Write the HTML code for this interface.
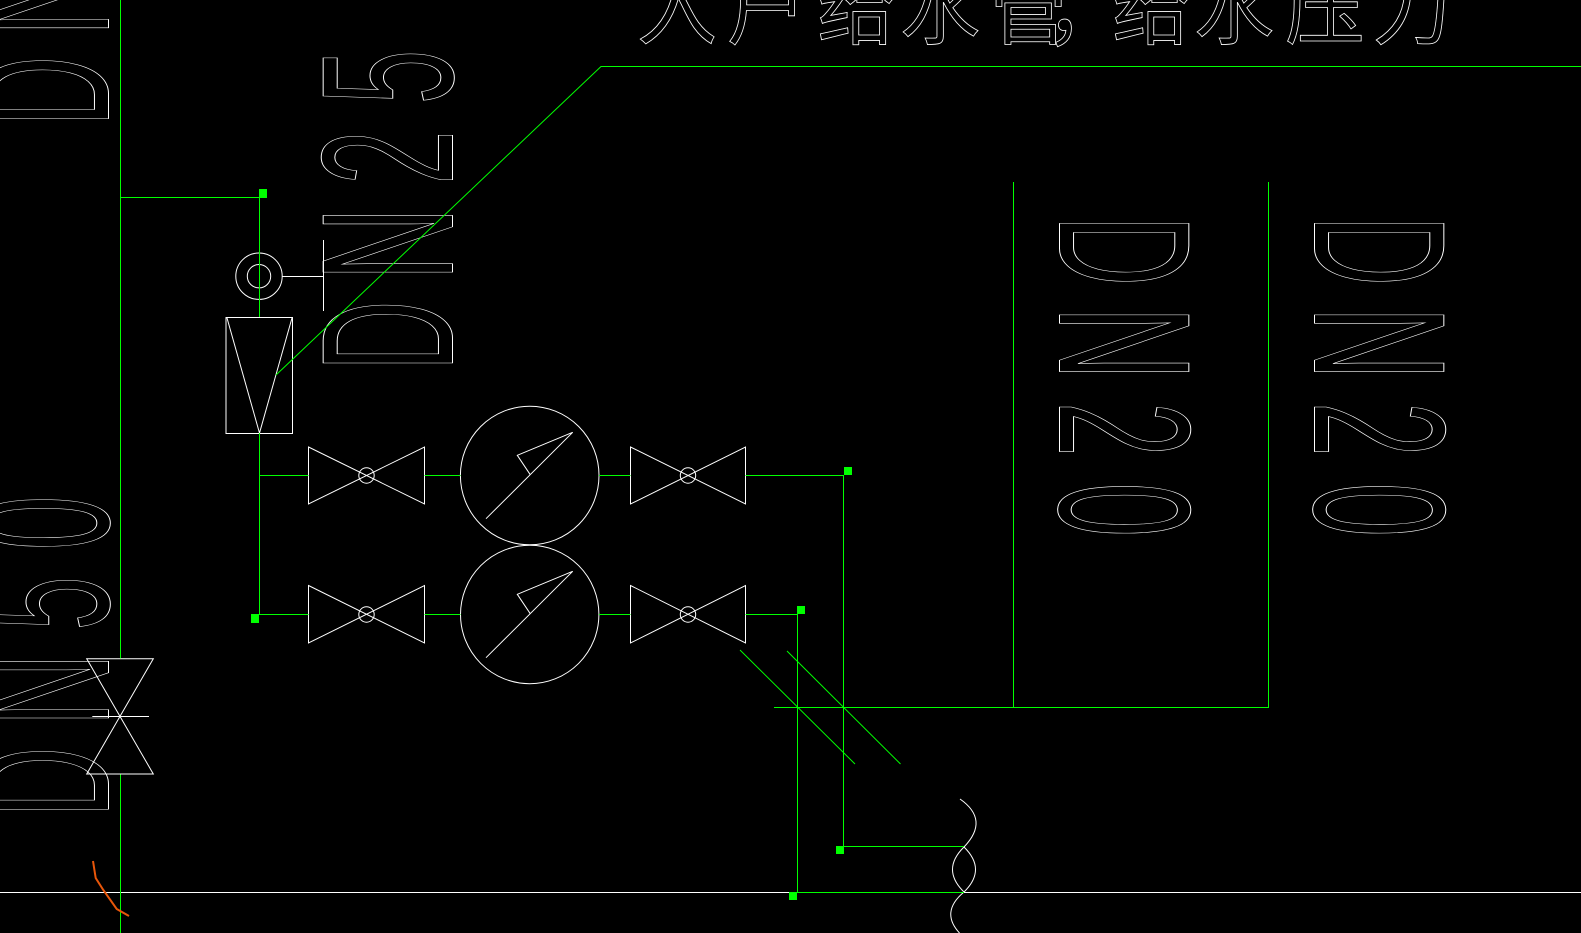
<!DOCTYPE html>
<html><head><meta charset="utf-8"><style>
html,body{margin:0;padding:0;background:#000;}
svg{display:block;}
.t{font-family:"Liberation Sans",sans-serif;font-size:188px;fill:none;stroke:#fff;stroke-width:1;}
.c{font-family:"Liberation Sans","Noto Sans CJK SC",sans-serif;font-size:80px;fill:none;stroke:#fff;stroke-width:0.8;}
</style></head><body>
<svg width="1581" height="933" viewBox="0 0 1581 933" xmlns="http://www.w3.org/2000/svg">
<rect width="1581" height="933" fill="#000"/>

<!-- top chinese text (cut off) -->
<g class="c" text-anchor="middle">
<text x="677" y="38">入</text>
<text x="767" y="38">户</text>
<text x="857" y="38">给</text>
<text x="940" y="38">水</text>
<text x="1028" y="38">管</text>
<text x="1085" y="38">，</text>
<text x="1152" y="38">给</text>
<text x="1234" y="38">水</text>
<text x="1325" y="38">压</text>
<text x="1412" y="38">力</text>
</g>

<!-- DN text rotated -->
<g class="t" text-anchor="middle">
<!-- top-left partial DN50 -->
<g transform="translate(108.5,91.3) rotate(-90)"><text transform="scale(.52,1)">D</text></g>
<g transform="translate(108.5,-0.5) rotate(-90)"><text transform="scale(.54,1)">N</text></g>
<g transform="translate(108.5,-86) rotate(-90)"><text transform="scale(.52,1)">5</text></g>
<g transform="translate(108.5,-172) rotate(-90)"><text transform="scale(.52,1)">0</text></g>
<!-- bottom-left DN50 -->
<g transform="translate(108.5,782) rotate(-90)"><text transform="scale(.52,1)">D</text></g>
<g transform="translate(108.5,689.7) rotate(-90)"><text transform="scale(.54,1)">N</text></g>
<g transform="translate(108.5,603.3) rotate(-90)"><text transform="scale(.52,1)">5</text></g>
<g transform="translate(108.5,523) rotate(-90)"><text transform="scale(.52,1)">0</text></g>
<!-- DN25 -->
<g transform="translate(452.5,335.7) rotate(-90)"><text transform="scale(.52,1)">D</text></g>
<g transform="translate(452.5,243.8) rotate(-90)"><text transform="scale(.54,1)">N</text></g>
<g transform="translate(452.5,157.5) rotate(-90)"><text transform="scale(.52,1)">2</text></g>
<g transform="translate(452.5,77) rotate(-90)"><text transform="scale(.52,1)">5</text></g>
<!-- DN20 #1 -->
<g transform="translate(1059.5,250.7) rotate(90)"><text transform="scale(.52,1)">D</text></g>
<g transform="translate(1059.5,343.2) rotate(90)"><text transform="scale(.54,1)">N</text></g>
<g transform="translate(1059.5,429.3) rotate(90)"><text transform="scale(.52,1)">2</text></g>
<g transform="translate(1059.5,509.8) rotate(90)"><text transform="scale(.52,1)">0</text></g>
<!-- DN20 #2 -->
<g transform="translate(1314.5,250.7) rotate(90)"><text transform="scale(.52,1)">D</text></g>
<g transform="translate(1314.5,343.2) rotate(90)"><text transform="scale(.54,1)">N</text></g>
<g transform="translate(1314.5,429.3) rotate(90)"><text transform="scale(.52,1)">2</text></g>
<g transform="translate(1314.5,509.8) rotate(90)"><text transform="scale(.52,1)">0</text></g>
</g>

<!-- white geometry -->
<g fill="none" stroke="#fff" stroke-width="1">
<path d="M0,892.5 H1581"/>
<!-- instrument circle -->
<circle cx="259" cy="276.2" r="23.2"/>
<circle cx="259" cy="276.2" r="11.7"/>
<path d="M282,276.5 H323.5 M323.5,240 V311"/>
<!-- filter rect -->
<rect x="226" y="317.5" width="66.5" height="116"/>
<path d="M227,318 L259.5,433 L292,318"/>
<!-- valves row 1 -->
<path d="M308.5,447 L424.5,504 L424.5,447 L308.5,504 Z"/>
<circle cx="366.5" cy="475.5" r="7.7"/>
<path d="M630.5,447 L745.5,504 L745.5,447 L630.5,504 Z"/>
<circle cx="688" cy="475.5" r="7.7"/>
<!-- valves row 2 -->
<path d="M308.5,585.5 L424.5,643 L424.5,585.5 L308.5,643 Z"/>
<circle cx="366.5" cy="614.5" r="7.7"/>
<path d="M630.5,585.5 L745.5,643 L745.5,585.5 L630.5,643 Z"/>
<circle cx="688" cy="614.5" r="7.7"/>
<!-- gauges -->
<circle cx="529.7" cy="475.5" r="69.3"/>
<path d="M486,518.7 L572.7,432.3 L517.3,455.3 L530,474.3"/>
<circle cx="529.7" cy="614.5" r="69.2"/>
<path d="M486,657.7 L572.7,571.3 L517.3,594.3 L530,613.3"/>
<!-- left vertical valve -->
<path d="M86.7,658.7 H153.3 L86.7,774 H153.3 Z"/>
<path d="M92.3,716.5 H149"/>
<!-- break symbol -->
<path d="M960,799 Q990,820 964,847"/>
<path d="M964,847 Q941,869.5 964,892"/>
<path d="M964,847 Q987,869.5 964,892"/>
<path d="M964,892 Q940,912 959.5,933"/>
</g>

<!-- green geometry -->
<g fill="none" stroke="#00ff00" stroke-width="1">
<path d="M120.5,0 V658.5 M120.5,774.5 V933"/>
<path d="M120.5,197.5 H259.5 V317"/>
<path d="M259.5,433 V614.5 H308.5"/>
<path d="M259.5,475.5 H308.5"/>
<path d="M424.5,475.5 H460.5 M599,475.5 H630.5 M745.5,475.5 H843.5 V846.5 H964"/>
<path d="M424.5,614.5 H460.5 M599,614.5 H630.5 M745.5,614.5 H797.5 V892.5 H964"/>
<path d="M774,707.5 H1268.5 V182 M1013.5,182 V707.5"/>
<path d="M740,650 L855,764 M787,651 L900.5,764"/>
<path d="M276,375 L601,66.5 H1581"/>
</g>
<g fill="#00ff00">
<rect x="259" y="189" width="8" height="9"/>
<rect x="251" y="614" width="8" height="9"/>
<rect x="844" y="467" width="8" height="8"/>
<rect x="797" y="606" width="8" height="8"/>
<rect x="836" y="846" width="8" height="8"/>
<rect x="789" y="892" width="8" height="8"/>
</g>

<!-- orange mark -->
<path d="M93,861 L95.7,878 L103.3,890 L116.7,909 L129,916" fill="none" stroke="#e8560a" stroke-width="2"/>
</svg>
</body></html>
